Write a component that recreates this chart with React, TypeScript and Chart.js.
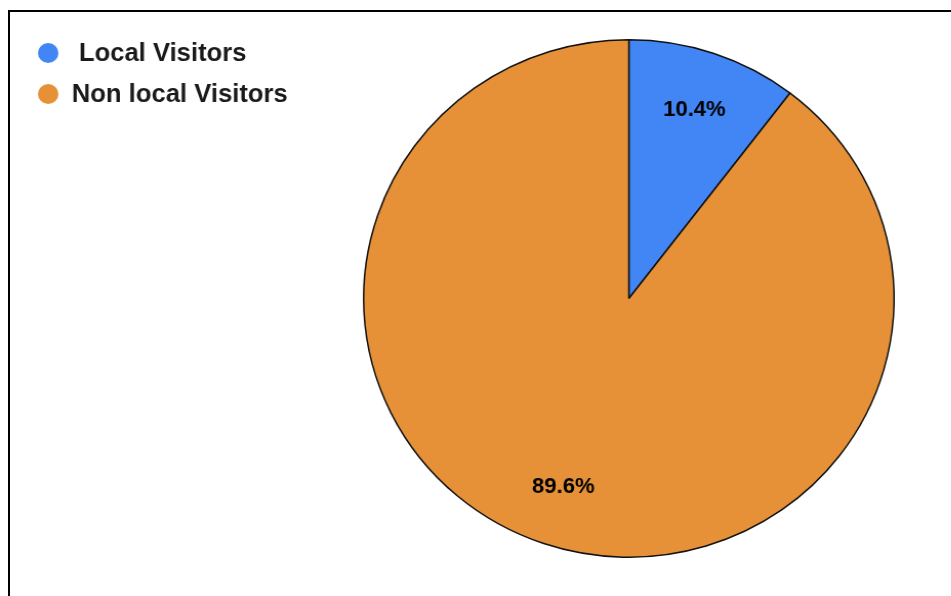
import React, { useEffect, useRef } from "react";
import { Chart, registerables } from "chart.js";

Chart.register(...registerables);

const categories: string[] = [" Local Visitors", "Non local Visitors"];
const values: number[] = [10.4, 89.6];
const percentLabels: string[] = ["10.4%", "89.6%"];
const sliceColors: string[] = ["#4285F4", "#E69138"];

const FONT = "'Liberation Sans', Arial, Helvetica, sans-serif";
const STRETCH_X = 1.025;

const legendPlugin = {
  id: "customLegend",
  afterDraw(chart: any) {
    const ctx = chart.ctx;
    const labels = chart.data.labels as string[];
    const colors = chart.data.datasets[0].backgroundColor as string[];
    ctx.save();
    labels.forEach((lab, i) => {
      const cy = 53 + i * 41;
      ctx.beginPath();
      ctx.arc(47, cy, 10, 0, Math.PI * 2);
      ctx.fillStyle = colors[i];
      ctx.fill();
      ctx.fillStyle = "#1a1a1a";
      ctx.font = `bold 25px ${FONT}`;
      ctx.textBaseline = "middle";
      ctx.textAlign = "left";
      ctx.fillText(lab, 70, cy + 1);
    });
    ctx.restore();
  },
};

const sliceLabelPlugin = {
  id: "sliceLabels",
  afterDatasetsDraw(chart: any) {
    const ctx = chart.ctx;
    const meta = chart.getDatasetMeta(0);
    ctx.save();
    ctx.font = `bold 21.5px ${FONT}`;
    ctx.fillStyle = "#000";
    ctx.textAlign = "center";
    ctx.textBaseline = "middle";
    meta.data.forEach((arc: any, i: number) => {
      const { x, y, startAngle, endAngle, outerRadius } = arc.getProps(
        ["x", "y", "startAngle", "endAngle", "outerRadius"],
        true
      );
      const mid = (startAngle + endAngle) / 2;
      const r = outerRadius * 0.77;
      ctx.fillText(percentLabels[i], x + Math.cos(mid) * r, y + Math.sin(mid) * r);
    });
    ctx.restore();
  },
};

export default function App() {
  const canvasRef = useRef<HTMLCanvasElement | null>(null);

  useEffect(() => {
    if (!canvasRef.current) return;
    const chart = new Chart(canvasRef.current, {
      type: "pie",
      data: {
        labels: categories,
        datasets: [
          {
            data: values,
            backgroundColor: sliceColors,
            borderColor: "#111",
            borderWidth: 1.5,
          },
        ],
      },
      options: {
        animation: false,
        responsive: true,
        maintainAspectRatio: false,
        layout: { padding: { top: 39, bottom: 38, left: 354, right: 78 } },
        plugins: {
          legend: { display: false },
          tooltip: { enabled: false },
        },
      },
      plugins: [legendPlugin, sliceLabelPlugin],
    });
    return () => chart.destroy();
  }, []);

  return (
    <div
      style={{
        position: "fixed",
        left: 0,
        top: 0,
        width: 951,
        height: 596,
        background: "#fff",
        overflow: "hidden",
      }}
    >
      <div
        style={{
          position: "absolute",
          left: 8,
          top: 10,
          width: 1200,
          height: 900,
          border: "2px solid #000",
        }}
      />
      <div
        style={{
          position: "absolute",
          left: 0,
          top: 0,
          width: 951,
          height: 596,
          transform: `scaleX(${STRETCH_X})`,
          transformOrigin: "0 0",
        }}
      >
        <canvas ref={canvasRef} />
      </div>
    </div>
  );
}
